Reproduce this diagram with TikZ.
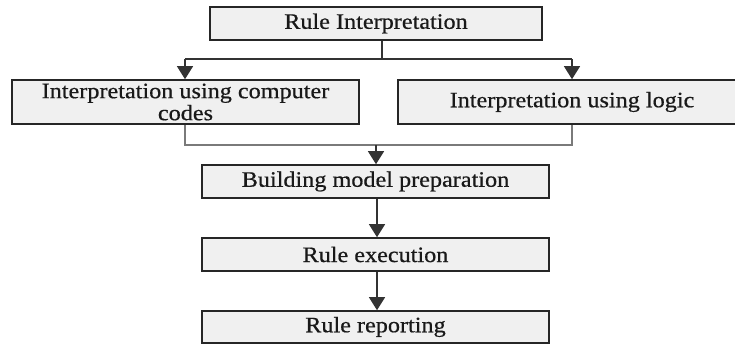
\documentclass[tikz,border=0pt]{standalone}
\usepackage{fontspec}
\setmainfont{Liberation Serif}[FakeStretch=1.1,FakeBold=0.6]
\usetikzlibrary{arrows.meta}
\definecolor{boxfill}{HTML}{F0F0F0}
\definecolor{linkgray}{HTML}{7A7A7A}
\tikzset{
  stage/.style={draw=black!85, line width=1.6pt, fill=boxfill, inner sep=0pt,
    align=center, font=\fontsize{22}{22}\selectfont, text=black!90},
  flow/.style={line width=1.3pt, draw=black!80,
    -{Triangle[width=16pt,length=13pt]}},
  link/.style={line width=1.3pt, draw=linkgray},
}
\begin{document}
\begin{tikzpicture}[x=1pt,y=-1pt]
\useasboundingbox (0,0) rectangle (735,345);

% process stages
\node[stage, minimum width=332pt, minimum height=33pt] (top) at (376,23.5) {Rule Interpretation};
\node[stage, minimum width=347pt, minimum height=44pt] (left) at (185.5,102)
  {Interpretation using computer\\codes};
\node[stage, minimum width=348pt, minimum height=44pt] (right) at (572,102)
  {Interpretation using logic};
\node[stage, minimum width=347pt, minimum height=33pt] (build) at (375.5,181.5) {Building model preparation};
\node[stage, minimum width=347pt, minimum height=33pt] (exec) at (375.5,254.5) {Rule execution};
\node[stage, minimum width=347pt, minimum height=32pt] (report) at (375.5,327) {Rule reporting};

% split into the two interpretation routes
\coordinate (split) at (382,59);
\coordinate (splitL) at (185,59);
\coordinate (splitR) at (572,59);
\draw[line width=1.3pt, draw=black!80] (top.south -| split) -- (split);
\draw[line width=1.3pt, draw=black!80] (splitL) -- (splitR);
\draw[flow] (splitL) -- (left.north -| splitL);
\draw[flow] (splitR) -- (right.north -| splitR);

% merge back into model preparation
\coordinate (mergeL) at (185,145);
\coordinate (mergeR) at (572,145);
\coordinate (merge) at (376,145);
\draw[link] (left.south -| mergeL) -- (mergeL) -- (mergeR) -- (right.south -| mergeR);
\draw[flow] (merge) -- (build.north -| merge);

% sequential steps
\coordinate (axis) at (377,0);
\draw[flow] (build.south -| axis) -- (exec.north -| axis);
\draw[flow] (exec.south -| axis) -- (report.north -| axis);
\end{tikzpicture}
\end{document}
